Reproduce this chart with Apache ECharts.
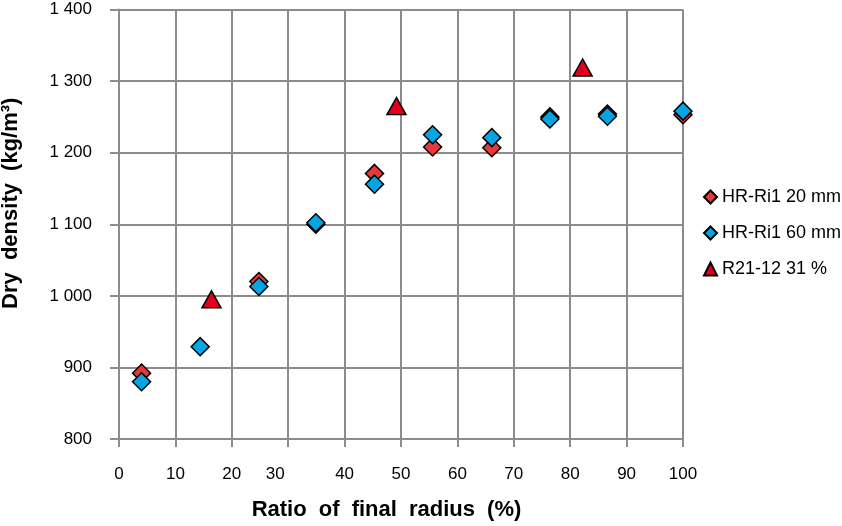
<!DOCTYPE html>
<html><head><meta charset="utf-8">
<script src="https://cdn.jsdelivr.net/npm/echarts@6/dist/echarts.min.js"></script>
<style>html,body{margin:0;padding:0;background:#fff}#c{width:842px;height:526px}</style>
</head><body><div id="c"></div>
<script>
const xTicks = [0,10,20,30,40,50,60,70,80,90,100];
const yTicks = [800,900,1000,1100,1200,1300,1400];
const hr20_x = [4.0, 24.8, 34.9, 45.3, 55.6, 66.1, 76.4, 86.6, 100];
const hr20_y = [892, 1020, 1100, 1171, 1208, 1207, 1250, 1254, 1253];
const hr60_x = [4.0, 14.4, 24.8, 34.9, 45.3, 55.6, 66.1, 76.4, 86.6, 100];
const hr60_y = [880, 929, 1013, 1102, 1156, 1225, 1221, 1247, 1251, 1258];
const r21_x = [16.4, 49.2, 82.2];
const r21_y = [995, 1265, 1319];
const seriesNames = ['HR-Ri1 20 mm', 'HR-Ri1 60 mm', 'R21-12 31 %'];
const xTitle = 'Ratio of final radius (%)';
const yTitle = 'Dry density (kg/m³)';

const zip = (a, b) => a.map((v, i) => [v, b[i]]);
const words = s => s.split(' ').map(w => '{w|' + w + '}').join(' ');
const font = '"Liberation Sans", Arial, sans-serif';
const gridColor = '#8c8c8c';
const titleStyle = {fontFamily: font, fontSize: 22, fontWeight: 'bold', color: '#000'};
const chart = echarts.init(document.getElementById('c'), null, {renderer: 'canvas'});
chart.setOption({
  animation: false,
  backgroundColor: '#fff',
  grid: {left: 119, right: 159, top: 9.5, bottom: 87, containLabel: false, outerBoundsMode: 'none'},
  xAxis: {
    type: 'value', min: xTicks[0], max: xTicks[xTicks.length-1], interval: 10,
    name: words(xTitle), nameLocation: 'middle', nameGap: 60,
    nameTextStyle: Object.assign({}, titleStyle, {padding: [0, 29, 0, 0],
      rich: {w: Object.assign({}, titleStyle, {padding: [0, 3, 0, 3]})}}),
    axisLine: {show: true, lineStyle: {color: gridColor, width: 2}},
    axisTick: {show: true, length: 8, lineStyle: {color: gridColor, width: 2}},
    axisLabel: {fontFamily: font, fontSize: 17, color: '#000', margin: 27,
      formatter: v => v === 30 ? '{s|30}' : String(v),
      rich: {s: {fontFamily: font, fontSize: 17, color: '#000', padding: [0, 26, 0, 0]}}},
    splitLine: {show: true, lineStyle: {color: gridColor, width: 2}}
  },
  yAxis: {
    type: 'value', min: yTicks[0], max: yTicks[yTicks.length-1], interval: 100,
    name: words(yTitle), nameLocation: 'middle', nameGap: 97,
    nameTextStyle: Object.assign({}, titleStyle, {padding: [0, 0, 0, 42],
      rich: {w: Object.assign({}, titleStyle, {padding: [0, 3, 0, 3]})}}),
    axisLine: {show: true, lineStyle: {color: gridColor, width: 2}},
    axisTick: {show: true, length: 9, lineStyle: {color: gridColor, width: 2}},
    axisLabel: {fontFamily: font, fontSize: 17, color: '#000', margin: 27,
      formatter: v => v >= 1000 ? Math.floor(v/1000) + ' ' + String(v%1000).padStart(3,'0') : String(v)},
    splitLine: {show: true, lineStyle: {color: gridColor, width: 2}}
  },
  legend: {
    orient: 'vertical', left: 698, top: 183, itemGap: 18, itemWidth: 13, itemHeight: 13,
    textStyle: {fontFamily: font, fontSize: 18, color: '#000'},
    data: [
      {name: seriesNames[0], icon: 'diamond'},
      {name: seriesNames[1], icon: 'diamond'},
      {name: seriesNames[2], icon: 'triangle'}
    ]
  },
  series: [
    {name: seriesNames[0], type: 'scatter', symbol: 'diamond', symbolSize: 18,
     itemStyle: {color: '#e8383a', borderColor: '#000', borderWidth: 1.5, opacity: 1},
     data: zip(hr20_x, hr20_y), z: 2},
    {name: seriesNames[1], type: 'scatter', symbol: 'diamond', symbolSize: 18,
     itemStyle: {color: '#05a5e3', borderColor: '#000', borderWidth: 1.5, opacity: 1},
     data: zip(hr60_x, hr60_y), z: 3},
    {name: seriesNames[2], type: 'scatter', symbol: 'triangle', symbolSize: [19, 17],
     itemStyle: {color: '#e2001a', borderColor: '#000', borderWidth: 1.5, opacity: 1},
     data: zip(r21_x, r21_y), z: 4}
  ]
});
</script></body></html>
